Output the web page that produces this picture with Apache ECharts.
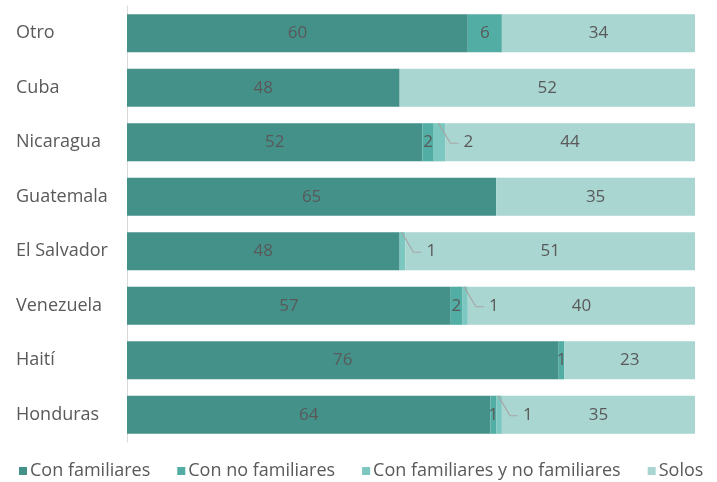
<!DOCTYPE html>
<html>
<head>
<meta charset="utf-8">
<script src="https://cdn.jsdelivr.net/npm/echarts@6/dist/echarts.min.js"></script>
<style>
  html, body { margin: 0; padding: 0; background: #fff; }
  #chart { width: 717px; height: 482px; }
</style>
</head>
<body>
<div id="chart"></div>
<script>
// categories, top to bottom as shown
const categories = ['Otro', 'Cuba', 'Nicaragua', 'Guatemala', 'El Salvador', 'Venezuela', 'Haití', 'Honduras'];
const conFamiliares = [60, 48, 52, 65, 48, 57, 76, 64];
const conNoFamiliares = [6, 0, 2, 0, 0, 2, 1, 1];
const conAmbos = [0, 0, 2, 0, 1, 1, 0, 1];
const solos = [34, 52, 44, 35, 51, 40, 23, 35];

const FONT = '"Open Sans", Lato, sans-serif';
const TEXT = '#595959';
const hideZero = p => (p.value ? String(p.value) : '');

const chart = echarts.init(document.getElementById('chart'));

const baseLabel = {
  show: true,
  position: 'inside',
  color: TEXT,
  fontSize: 17,
  fontFamily: FONT,
  formatter: hideZero
};

function bar(name, data, color, label) {
  return {
    name: name,
    type: 'bar',
    stack: 'total',
    barWidth: '70%',
    itemStyle: { color: color },
    label: label || baseLabel,
    data: data
  };
}

// leader-line labels for the thin "con familiares y no familiares" segments
const leaderData = categories.map((c, i) => [
  conFamiliares[i] + conNoFamiliares[i] + conAmbos[i] / 2, i, conAmbos[i]
]).filter(d => d[2] > 0);

function renderLeader(params, api) {
  const p = api.coord([api.value(0), api.value(1)]);
  const h = api.size([0, 1])[1] * 0.7;
  const top = p[1] - h / 2;
  return {
    type: 'group',
    children: [
      {
        type: 'polyline',
        shape: { points: [[p[0] - 1, top], [p[0] + 11, p[1] + 1], [p[0] + 19, p[1] + 1]] },
        style: { stroke: '#a6a6a6', lineWidth: 1.2, fill: null }
      },
      {
        type: 'text',
        x: p[0] + 24,
        y: p[1],
        style: {
          text: String(api.value(2)),
          fill: TEXT,
          font: '17px ' + FONT,
          verticalAlign: 'middle',
          align: 'left'
        }
      }
    ]
  };
}

const option = {
  animation: false,
  textStyle: { fontFamily: FONT },
  grid: { left: 127, right: 22, top: 6, bottom: 40 },
  xAxis: {
    type: 'value',
    min: 0,
    max: 100,
    show: false
  },
  yAxis: {
    type: 'category',
    inverse: true,
    data: categories,
    axisTick: { show: false },
    axisLine: { show: true, lineStyle: { color: '#d9d9d9' } },
    axisLabel: {
      align: 'left',
      margin: 111,
      color: TEXT,
      fontSize: 18,
      fontFamily: FONT
    }
  },
  legend: {
    bottom: -3,
    left: 14,
    itemWidth: 8,
    itemHeight: 8,
    itemGap: 27,
    icon: 'rect',
    textStyle: { color: TEXT, fontSize: 18, fontFamily: FONT, padding: [0, 0, 0, -2] },
    data: ['Con familiares', 'Con no familiares', 'Con familiares y no familiares', 'Solos']
  },
  series: [
    bar('Con familiares', conFamiliares, '#44918a'),
    bar('Con no familiares', conNoFamiliares, '#52aea5'),
    bar('Con familiares y no familiares', conAmbos, '#7cc7bf', { show: false }),
    bar('Solos', solos, '#a9d6d1'),
    {
      type: 'custom',
      renderItem: renderLeader,
      data: leaderData,
      z: 10,
      silent: true
    }
  ]
};

chart.setOption(option);
</script>
</body>
</html>
